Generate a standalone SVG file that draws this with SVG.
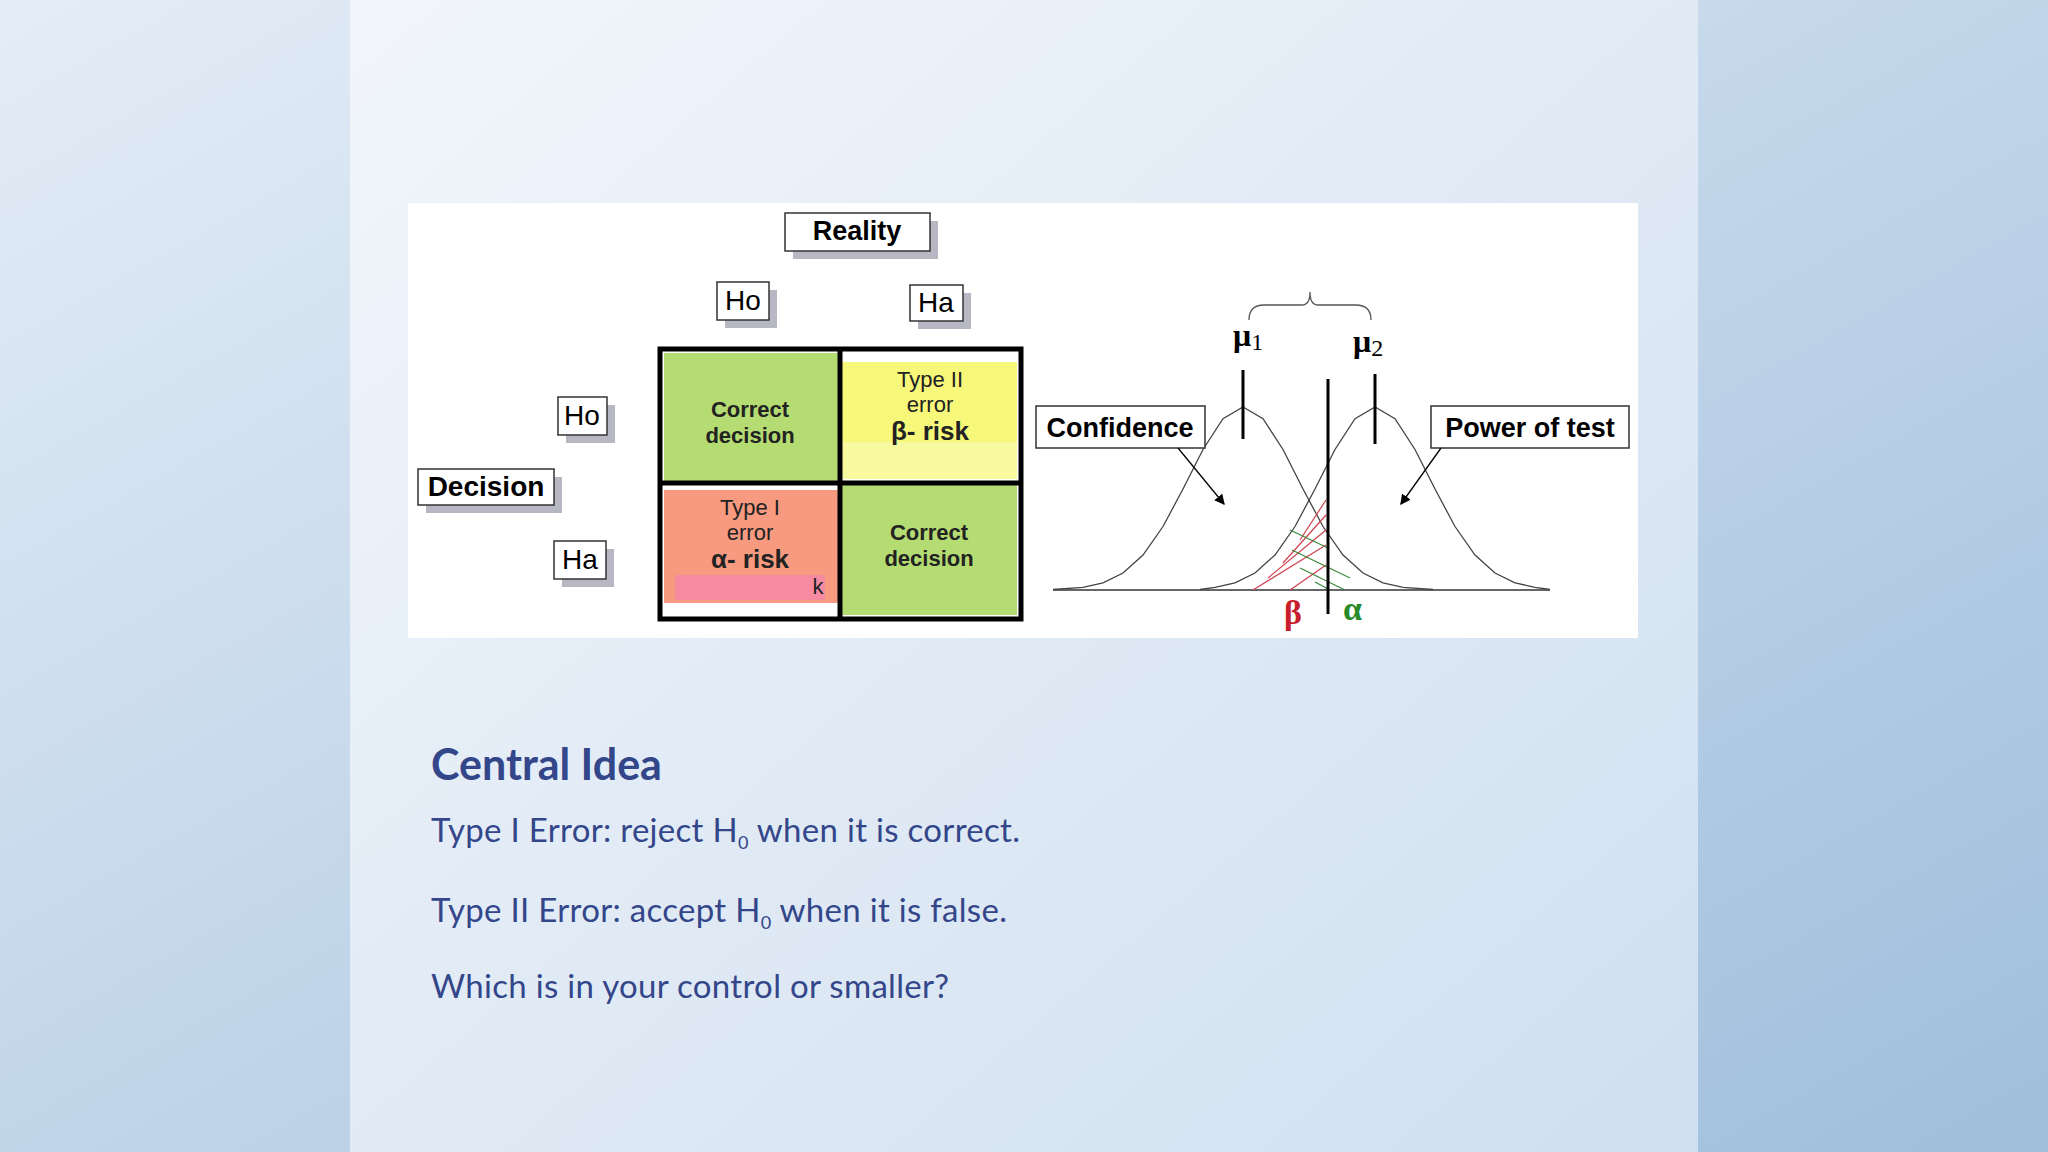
<svg xmlns="http://www.w3.org/2000/svg" width="2048" height="1152" viewBox="0 0 2048 1152">
<defs>
<linearGradient id="bg" x1="0" y1="0" x2="1" y2="1"><stop offset="0" stop-color="#e4edf7"/><stop offset="1" stop-color="#9fbedc"/></linearGradient>
<linearGradient id="panel" x1="0" y1="0" x2="1" y2="1"><stop offset="0" stop-color="#f2f6fb"/><stop offset="1" stop-color="#cfdff0"/></linearGradient>
<marker id="ah" markerWidth="8" markerHeight="8" refX="7" refY="4" orient="auto"><path d="M0,0 L8,4 L0,8 z" fill="#000"/></marker>
</defs>
<style>
.lbl{fill:#fff;stroke:#333;stroke-width:1.5}
.sh{fill:#b8b8c4}
.b{font-family:"Liberation Sans",Arial,sans-serif;font-weight:bold;fill:#000}
.n{font-family:"Liberation Sans",Arial,sans-serif;fill:#000}
.cell{font-family:"Liberation Sans",Arial,sans-serif;font-size:22px;text-anchor:middle;fill:#222}
.big{font-size:26px;font-weight:bold}
.g{font-family:"Liberation Serif","Times New Roman",serif;font-weight:bold}
.body{font-family:"Lato","Open Sans",sans-serif;fill:#34468a;font-size:33px;letter-spacing:0.3px}
.curve{fill:none;stroke:#444;stroke-width:1.3}
</style>
<rect width="2048" height="1152" fill="url(#bg)"/>
<rect x="350" y="0" width="1348" height="1152" fill="url(#panel)"/>
<rect x="408" y="203" width="1230" height="435" fill="#fff"/>
<g id="reality"><rect class="sh" x="793" y="221" width="145" height="38"/><rect class="lbl" x="785" y="213" width="145" height="38"/><text class="b" x="857" y="240" font-size="27" text-anchor="middle">Reality</text></g>
<g id="ho-top"><rect class="sh" x="725" y="290" width="52" height="38"/><rect class="lbl" x="717" y="282" width="52" height="38"/><text class="n" x="743" y="310" font-size="28" text-anchor="middle">Ho</text></g>
<g id="ha-top"><rect class="sh" x="918" y="293" width="53" height="36"/><rect class="lbl" x="910" y="285" width="53" height="36"/><text class="n" x="936" y="312" font-size="28" text-anchor="middle">Ha</text></g>
<g id="ho-left"><rect class="sh" x="566" y="405" width="49" height="38"/><rect class="lbl" x="558" y="397" width="49" height="38"/><text class="n" x="582" y="425" font-size="28" text-anchor="middle">Ho</text></g>
<g id="decision"><rect class="sh" x="426" y="477" width="136" height="36"/><rect class="lbl" x="418" y="469" width="136" height="36"/><text class="b" x="486" y="496" font-size="28" text-anchor="middle">Decision</text></g>
<g id="ha-left"><rect class="sh" x="562" y="549" width="52" height="38"/><rect class="lbl" x="554" y="541" width="52" height="38"/><text class="n" x="580" y="569" font-size="28" text-anchor="middle">Ha</text></g>
<g id="grid">
<rect x="660" y="349" width="361" height="270" fill="#fff"/>
<rect x="664" y="353" width="176" height="128" fill="#b5dc72"/>
<rect x="842" y="362" width="175" height="80" fill="#f7f77a"/>
<rect x="842" y="442" width="175" height="37" fill="#f9f9a0"/>
<rect x="664" y="490" width="176" height="113" fill="#f79a80"/>
<rect x="675" y="575" width="150" height="25" fill="#f58aa0"/>
<rect x="842" y="485" width="175" height="130" fill="#b5dc72"/>
<rect x="660" y="349" width="361" height="270" fill="none" stroke="#000" stroke-width="5"/>
<line x1="840" y1="349" x2="840" y2="619" stroke="#000" stroke-width="5"/>
<line x1="660" y1="483" x2="1021" y2="483" stroke="#000" stroke-width="5"/>
<text class="cell" font-weight="bold" x="750" y="417">Correct</text><text class="cell" font-weight="bold" x="750" y="443">decision</text>
<text class="cell" x="930" y="387">Type II</text><text class="cell" x="930" y="412">error</text><text class="cell big" x="930" y="440">β- risk</text>
<text class="cell" x="750" y="515">Type I</text><text class="cell" x="750" y="540">error</text><text class="cell big" x="750" y="568">α- risk</text>
<text class="cell" x="818" y="594">k</text>
<text class="cell" font-weight="bold" x="929" y="540">Correct</text><text class="cell" font-weight="bold" x="929" y="566">decision</text>
</g>
<g id="curves">
<line x1="1053" y1="590" x2="1550" y2="590" stroke="#333" stroke-width="1.5"/>
<polyline class="curve" points="1053,589.5 1083,587.3 1103,582.8 1123,573 1143,555 1163,526.5 1183,489 1203,449.5 1223,418.7 1243,407 1263,418.7 1283,449.5 1303,489 1323,526.5 1343,555 1363,573 1383,582.8 1403,587.3 1433,589.5"/>
<polyline class="curve" points="1200,589.5 1215,587.3 1235,582.8 1255,573 1275,555 1295,526.5 1315,489 1335,449.5 1355,418.7 1375,407 1395,418.7 1415,449.5 1435,489 1455,526.5 1475,555 1495,573 1515,582.8 1535,587.3 1550,589.5"/>
<g stroke="#d04050" stroke-width="1.2"><line x1="1253" y1="590" x2="1326" y2="545"/><line x1="1268" y1="578" x2="1326" y2="530"/><line x1="1283" y1="563" x2="1326" y2="515"/><line x1="1290" y1="590" x2="1326" y2="565"/><line x1="1300" y1="540" x2="1326" y2="500"/></g>
<g stroke="#3a8a3a" stroke-width="1.2"><line x1="1290" y1="530" x2="1328" y2="548"/><line x1="1292" y1="550" x2="1350" y2="578"/><line x1="1300" y1="568" x2="1345" y2="590"/><line x1="1315" y1="582" x2="1330" y2="590"/></g>
<line x1="1243" y1="370" x2="1243" y2="439" stroke="#000" stroke-width="3"/>
<line x1="1375" y1="374" x2="1375" y2="444" stroke="#000" stroke-width="3"/>
<line x1="1328" y1="379" x2="1328" y2="614" stroke="#000" stroke-width="3"/>
<path d="M1249,320 Q1249,305 1264,305 L1302,305 Q1310,305 1310,292 Q1310,305 1318,305 L1356,305 Q1371,305 1371,320" fill="none" stroke="#555" stroke-width="1.3"/>
<text class="g" x="1233" y="346" font-size="32">μ<tspan font-size="24" font-weight="normal" dy="4">1</tspan></text>
<text class="g" x="1353" y="352" font-size="32">μ<tspan font-size="24" font-weight="normal" dy="4">2</tspan></text>
<text class="g" x="1284" y="624" font-size="34" fill="#c8202a" font-weight="normal">β</text>
<text class="g" x="1343" y="620" font-size="34" fill="#2a8a2a" font-weight="normal">α</text>
</g>
<g id="confidence"><rect class="lbl" x="1036" y="406" width="169" height="42" stroke-width="1"/><text class="b" x="1120" y="437" font-size="27" text-anchor="middle">Confidence</text></g>
<g id="power"><rect class="lbl" x="1431" y="406" width="198" height="42" stroke-width="1"/><text class="b" x="1530" y="437" font-size="27" text-anchor="middle">Power of test</text></g>
<g id="connectors" stroke="#000" stroke-width="1.3">
<line x1="1178" y1="448" x2="1224" y2="504" marker-end="url(#ah)"/>
<line x1="1441" y1="448" x2="1401" y2="504" marker-end="url(#ah)"/>
</g>
<text x="431" y="780" font-family="Lato,'Open Sans',sans-serif" font-weight="bold" font-size="43" fill="#34468a">Central Idea</text>
<text class="body" x="431" y="842">Type I Error: reject H<tspan font-size="18" dy="7">0</tspan><tspan dy="-7"> when it is correct.</tspan></text>
<text class="body" x="431" y="922">Type II Error: accept H<tspan font-size="18" dy="7">0</tspan><tspan dy="-7"> when it is false.</tspan></text>
<text class="body" x="431" y="998">Which is in your control or smaller?</text>
</svg>
